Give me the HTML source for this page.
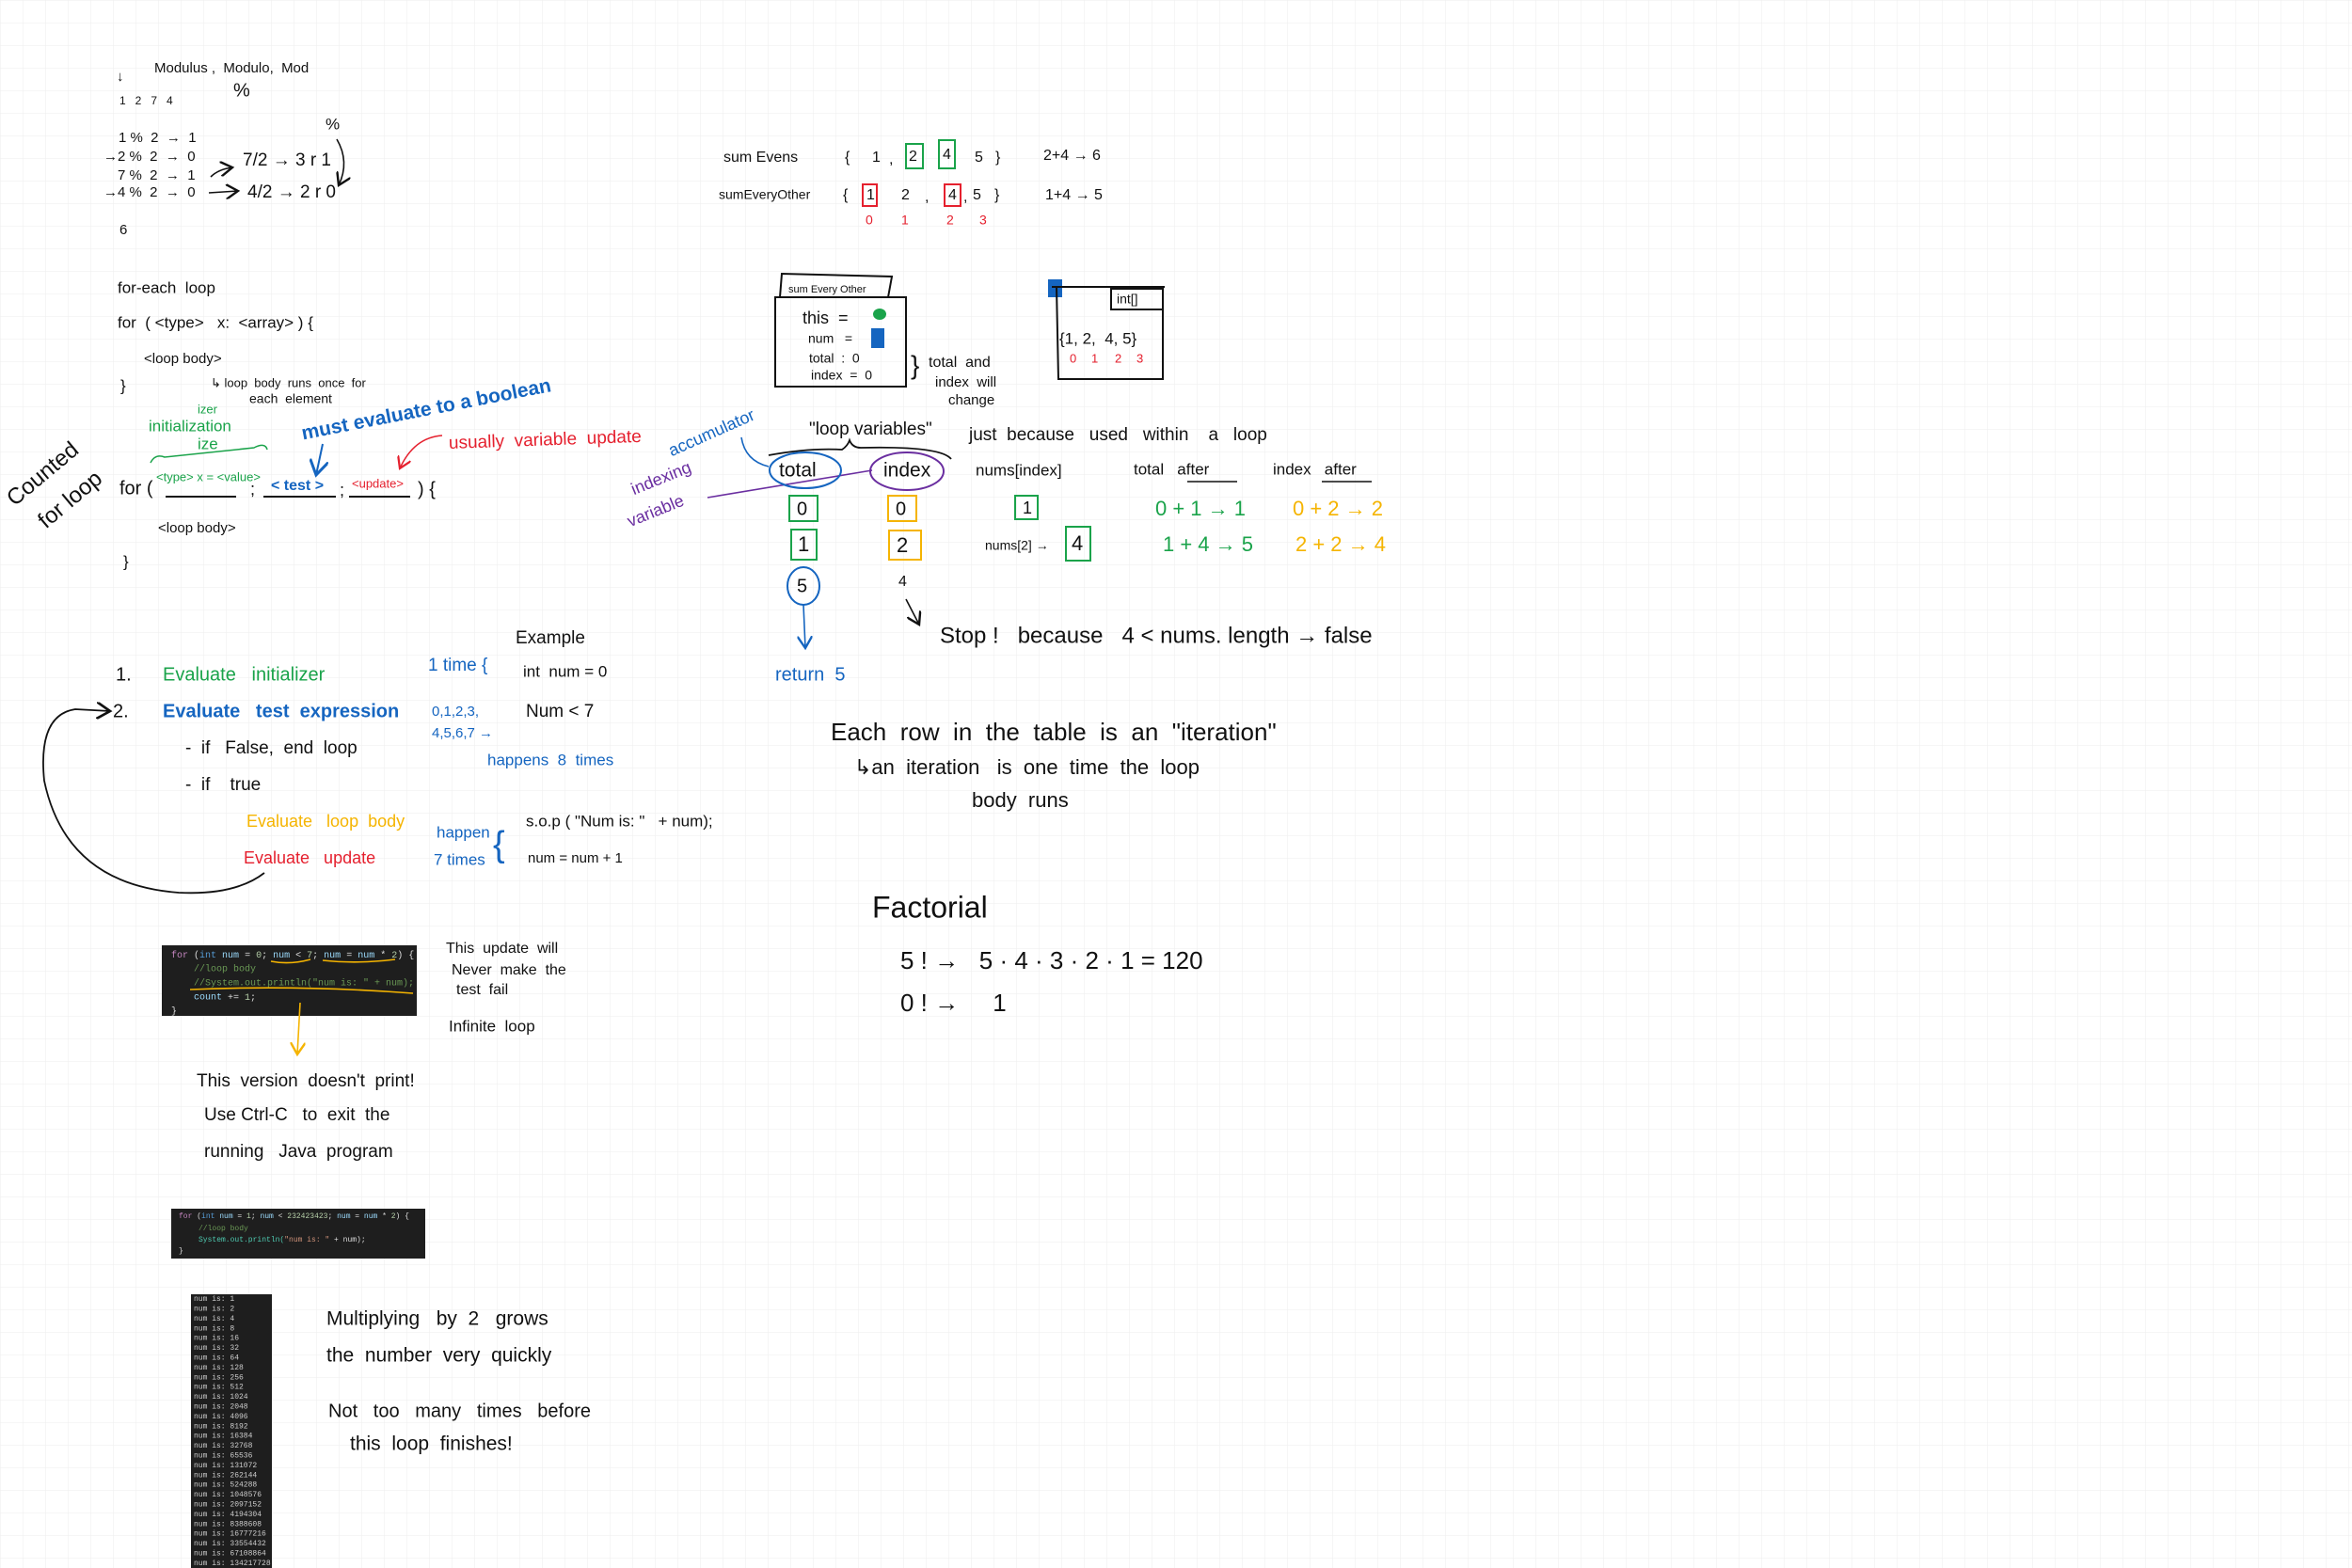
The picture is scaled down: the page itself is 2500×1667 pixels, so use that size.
<!DOCTYPE html>
<html><head><meta charset="utf-8"><style>
html,body{margin:0;padding:0;background:#fff}
svg{display:block}
text{font-family:"Liberation Sans",sans-serif;dominant-baseline:middle;white-space:pre}
.m text, text.m{font-family:"Liberation Mono",monospace}
.g{fill:#1aa34a}.b{fill:#1565c0}.r{fill:#e5202e}.y{fill:#f5b400}.p{fill:#6a2ea0}
</style></head><body>
<svg width="2500" height="1667" viewBox="0 0 2500 1667" xmlns="http://www.w3.org/2000/svg" fill="#111">
<defs>
<pattern id="grid" width="24" height="24" patternUnits="userSpaceOnUse">
<path d="M24 0H0V24" fill="none" stroke="#eeeeee" stroke-width="1"/>
</pattern>
<marker id="ak" markerWidth="10" markerHeight="10" refX="8" refY="5" orient="auto"><path d="M0,0 L8,5 L0,10" fill="none" stroke="#111" stroke-width="1.5"/></marker>
<marker id="ab" markerWidth="10" markerHeight="10" refX="8" refY="5" orient="auto"><path d="M0,0 L8,5 L0,10" fill="none" stroke="#1565c0" stroke-width="1.5"/></marker>
<marker id="ar" markerWidth="10" markerHeight="10" refX="8" refY="5" orient="auto"><path d="M0,0 L8,5 L0,10" fill="none" stroke="#e5202e" stroke-width="1.5"/></marker>
<marker id="ay" markerWidth="10" markerHeight="10" refX="8" refY="5" orient="auto"><path d="M0,0 L8,5 L0,10" fill="none" stroke="#f5b400" stroke-width="1.5"/></marker>
</defs>
<rect width="2500" height="1667" fill="url(#grid)"/>

<!-- Modulus section -->
<g font-size="15">
<text x="124" y="82">↓</text>
<text x="164" y="73">Modulus ,  Modulo,  Mod</text>
<text x="248" y="97" font-size="20">%</text>
<text x="127" y="108" font-size="12">1   2   7   4</text>
<text x="126" y="147">1 %  2  →  1</text>
<text x="110" y="167">→2 %  2  →  0</text>
<text x="125" y="187">7 %  2  →  1</text>
<text x="110" y="205">→4 %  2  →  0</text>
<text x="258" y="171" font-size="19">7/2 → 3 r 1</text>
<text x="263" y="205" font-size="19">4/2 → 2 r 0</text>
<text x="346" y="133" font-size="17">%</text>
<text x="127" y="245">6</text>
</g>
<path d="M224 188 Q232 180 247 178" fill="none" stroke="#111" stroke-width="1.6" marker-end="url(#ak)"/>
<path d="M222 205 L253 203" fill="none" stroke="#111" stroke-width="1.6" marker-end="url(#ak)"/>
<path d="M358 148 Q372 172 360 197" fill="none" stroke="#111" stroke-width="1.6" marker-end="url(#ak)"/>

<!-- for-each -->
<g font-size="17">
<text x="125" y="307">for-each  loop</text>
<text x="125" y="344">for  ( &lt;type&gt;   x:  &lt;array&gt; ) {</text>
<text x="153" y="382" font-size="15">&lt;loop body&gt;</text>
<text x="128" y="411">}</text>
<text x="224" y="408" font-size="13">↳ loop  body  runs  once  for</text>
<text x="265" y="425" font-size="14">each  element</text>
</g>

<!-- counted for loop -->
<text x="10" y="520" font-size="24" transform="rotate(-40 30 525)">Counted</text>
<text x="40" y="545" font-size="24" transform="rotate(-40 60 545)">for loop</text>
<text class="g" x="210" y="436" font-size="13">izer</text>
<text class="g" x="158" y="454" font-size="17">initialization</text>
<text class="g" x="210" y="473" font-size="17">ize</text>
<path d="M160 492 Q165 482 175 486 L270 476 Q282 470 284 478" fill="none" stroke="#1aa34a" stroke-width="1.5"/>
<text class="b" x="321" y="462" font-size="21" font-weight="bold" transform="rotate(-11 321 462)">must evaluate to a boolean</text>
<path d="M343 472 L336 505" fill="none" stroke="#1565c0" stroke-width="2" marker-end="url(#ab)"/>
<text class="r" x="477" y="472" font-size="19" transform="rotate(-2 477 472)">usually  variable  update</text>
<path d="M470 463 Q440 465 425 498" fill="none" stroke="#e5202e" stroke-width="1.5" marker-end="url(#ar)"/>
<text x="127" y="520" font-size="20">for (</text>
<text class="g" x="166" y="508" font-size="13">&lt;type&gt; x = &lt;value&gt;</text>
<path d="M176 528 L251 528" stroke="#111" stroke-width="2"/>
<text x="266" y="521" font-size="18">;</text>
<text class="b" x="288" y="517" font-size="16" font-weight="bold">&lt; test &gt;</text>
<path d="M280 528 L357 528" stroke="#111" stroke-width="2"/>
<text x="361" y="522" font-size="18">;</text>
<text class="r" x="374" y="515" font-size="13">&lt;update&gt;</text>
<path d="M371 528 L436 528" stroke="#111" stroke-width="2"/>
<text x="444" y="521" font-size="20">) {</text>
<text x="168" y="562" font-size="15">&lt;loop body&gt;</text>
<text x="131" y="598" font-size="17">}</text>

<text class="p" x="672" y="522" font-size="18" transform="rotate(-22 672 522)">indexing</text>
<text class="p" x="668" y="556" font-size="18" transform="rotate(-22 668 556)">variable</text>
<path d="M752 529 L927 500" stroke="#6a2ea0" stroke-width="1.6"/>

<!-- sum evens -->
<g font-size="16">
<text x="769" y="168">sum Evens</text>
<text x="898" y="168">{</text><text x="927" y="168">1</text><text x="945" y="170">,</text>
<text x="966" y="167">2</text><text x="1002" y="165">4</text><text x="1036" y="168">5</text><text x="1058" y="168">}</text>
<text x="1109" y="166">2+4 → 6</text>
<text x="764" y="208" font-size="14">sumEveryOther</text>
<text x="896" y="208">{</text><text x="921" y="208">1</text><text x="958" y="208">2</text><text x="983" y="210">,</text>
<text x="1008" y="208">4</text><text x="1024" y="210">,</text><text x="1034" y="208">5</text><text x="1057" y="208">}</text>
<text x="1111" y="208">1+4 → 5</text>
</g>
<rect x="963" y="153" width="18" height="26" fill="none" stroke="#1aa34a" stroke-width="2"/>
<rect x="998" y="149" width="17" height="30" fill="none" stroke="#1aa34a" stroke-width="2"/>
<rect x="917" y="196" width="15" height="23" fill="none" stroke="#e5202e" stroke-width="2"/>
<rect x="1004" y="196" width="17" height="23" fill="none" stroke="#e5202e" stroke-width="2"/>
<g font-size="14"><text class="r" x="920" y="235">0</text><text class="r" x="958" y="235">1</text><text class="r" x="1006" y="235">2</text><text class="r" x="1041" y="235">3</text></g>

<!-- sumEveryOther frame -->
<path d="M829 316 L831 291 L948 294 L944 316" fill="none" stroke="#111" stroke-width="2"/>
<text x="838" y="308" font-size="11">sum Every Other</text>
<rect x="824" y="316" width="139" height="95" fill="none" stroke="#111" stroke-width="2"/>
<g font-size="14">
<text x="853" y="339" font-size="18">this  =</text>
<text x="859" y="361">num   =</text>
<text x="860" y="382">total  :  0</text>
<text x="862" y="400">index  =  0</text>
</g>
<ellipse cx="935" cy="334" rx="7" ry="6" fill="#1aa34a"/>
<rect x="926" y="349" width="14" height="21" fill="#1565c0"/>
<text x="968" y="390" font-size="28">}</text>
<text x="987" y="386" font-size="16">total  and</text>
<text x="994" y="407" font-size="15">index  will</text>
<text x="1008" y="426" font-size="15">change</text>

<!-- int[] frame -->
<rect x="1114" y="297" width="15" height="19" fill="#1565c0"/>
<path d="M1118 305 L1238 305 M1123 305 L1125 403 L1236 403 L1236 305" fill="none" stroke="#111" stroke-width="2"/>
<rect x="1181" y="307" width="55" height="22" fill="none" stroke="#111" stroke-width="2"/>
<text x="1187" y="319" font-size="14">int[]</text>
<text x="1126" y="361" font-size="17">{1, 2,  4, 5}</text>
<g font-size="13"><text class="r" x="1137" y="382">0</text><text class="r" x="1160" y="382">1</text><text class="r" x="1185" y="382">2</text><text class="r" x="1208" y="382">3</text></g>

<!-- table -->
<text class="b" x="712" y="481" font-size="18" transform="rotate(-24 712 481)">accumulator</text>
<path d="M788 465 Q792 490 817 496" fill="none" stroke="#1565c0" stroke-width="1.6"/>
<text x="860" y="457" font-size="19">"loop variables"</text>
<path d="M817 484 Q860 476 895 478 Q901 474 903 468 Q906 476 915 476 Q1000 474 1011 488" fill="none" stroke="#111" stroke-width="1.8"/>
<text x="1030" y="463" font-size="19">just  because   used   within    a   loop</text>
<ellipse cx="856" cy="500" rx="38" ry="19" fill="none" stroke="#1565c0" stroke-width="2"/>
<text x="828" y="501" font-size="21">total</text>
<ellipse cx="964" cy="501" rx="39" ry="20" fill="none" stroke="#6a2ea0" stroke-width="2"/>
<text x="939" y="501" font-size="21">index</text>
<text x="1037" y="501" font-size="17">nums[index]</text>
<text x="1205" y="500" font-size="17">total   after</text>
<path d="M1262 512 L1315 512" stroke="#111" stroke-width="1.5"/>
<text x="1353" y="500" font-size="17">index   after</text>
<path d="M1405 512 L1458 512" stroke="#111" stroke-width="1.5"/>

<rect x="839" y="527" width="30" height="27" fill="none" stroke="#1aa34a" stroke-width="2"/><text x="847" y="542" font-size="20">0</text>
<rect x="944" y="527" width="30" height="27" fill="none" stroke="#f5b400" stroke-width="2"/><text x="952" y="542" font-size="20">0</text>
<rect x="1079" y="527" width="24" height="25" fill="none" stroke="#1aa34a" stroke-width="2"/><text x="1087" y="541" font-size="18">1</text>
<text class="g" x="1228" y="542" font-size="22">0 + 1 → 1</text>
<text class="y" x="1374" y="542" font-size="22">0 + 2 → 2</text>

<rect x="841" y="563" width="27" height="32" fill="none" stroke="#1aa34a" stroke-width="2"/><text x="848" y="580" font-size="22">1</text>
<rect x="945" y="564" width="34" height="31" fill="none" stroke="#f5b400" stroke-width="2"/><text x="953" y="581" font-size="22">2</text>
<text x="1047" y="581" font-size="14">nums[2] →</text>
<rect x="1133" y="560" width="26" height="36" fill="none" stroke="#1aa34a" stroke-width="2"/><text x="1139" y="579" font-size="22">4</text>
<text class="g" x="1236" y="580" font-size="22">1 + 4 → 5</text>
<text class="y" x="1377" y="580" font-size="22">2 + 2 → 4</text>

<ellipse cx="854" cy="623" rx="17" ry="20" fill="none" stroke="#1565c0" stroke-width="2"/><text x="847" y="624" font-size="20">5</text>
<text x="955" y="619" font-size="16">4</text>
<path d="M854 643 L856 689" stroke="#1565c0" stroke-width="1.6" marker-end="url(#ab)"/>
<path d="M963 637 L977 664" stroke="#111" stroke-width="1.6" marker-end="url(#ak)"/>
<text x="999" y="677" font-size="24">Stop !   because   4 &lt; nums. length → false</text>
<text class="b" x="824" y="718" font-size="20">return  5</text>

<!-- evaluation steps -->
<text x="548" y="679" font-size="19">Example</text>
<text x="123" y="718" font-size="20">1.</text>
<text class="g" x="173" y="718" font-size="20">Evaluate   initializer</text>
<text x="120" y="757" font-size="20">2.</text>
<text class="b" x="173" y="757" font-size="20" font-weight="bold">Evaluate   test  expression</text>
<text x="197" y="796" font-size="19">-  if   False,  end  loop</text>
<text x="197" y="835" font-size="19">-  if    true</text>
<text class="y" x="262" y="874" font-size="18">Evaluate   loop  body</text>
<text class="r" x="259" y="913" font-size="18">Evaluate   update</text>
<path d="M281 928 Q250 952 190 949 Q70 940 47 830 Q40 760 80 754 L117 756" fill="none" stroke="#111" stroke-width="1.8" marker-end="url(#ak)"/>
<text class="b" x="455" y="708" font-size="19">1 time {</text>
<text x="556" y="715" font-size="17">int  num = 0</text>
<text class="b" x="459" y="757" font-size="15">0,1,2,3,</text>
<text class="b" x="459" y="780" font-size="15">4,5,6,7 →</text>
<text x="559" y="757" font-size="19">Num &lt; 7</text>
<text class="b" x="518" y="809" font-size="17">happens  8  times</text>
<text class="b" x="464" y="886" font-size="17">happen</text>
<text class="b" x="461" y="915" font-size="17">7 times</text>
<text class="b" x="524" y="900" font-size="38">{</text>
<text x="559" y="874" font-size="17">s.o.p ( "Num is: "   + num);</text>
<text x="561" y="913" font-size="15">num = num + 1</text>

<!-- code box 1 -->
<rect x="172" y="1005" width="271" height="75" fill="#1e1e1e"/>
<g class="m" font-size="10">
<text x="182" y="1015"><tspan fill="#c586c0">for</tspan><tspan fill="#ddd"> (</tspan><tspan fill="#569cd6">int</tspan><tspan fill="#9cdcfe"> num</tspan><tspan fill="#ddd"> = </tspan><tspan fill="#b5cea8">0</tspan><tspan fill="#ddd">; </tspan><tspan fill="#9cdcfe">num</tspan><tspan fill="#ddd"> &lt; </tspan><tspan fill="#b5cea8">7</tspan><tspan fill="#ddd">; </tspan><tspan fill="#9cdcfe">num</tspan><tspan fill="#ddd"> = </tspan><tspan fill="#9cdcfe">num</tspan><tspan fill="#ddd"> * </tspan><tspan fill="#b5cea8">2</tspan><tspan fill="#ddd">) {</tspan></text>
<text x="206" y="1030" fill="#6a9955">//loop body</text>
<text x="206" y="1045" fill="#6a9955">//System.out.println("num is: " + num);</text>
<text x="206" y="1060" fill="#9cdcfe">count <tspan fill="#ddd">+= </tspan><tspan fill="#b5cea8">1</tspan><tspan fill="#ddd">;</tspan></text>
<text x="182" y="1075" fill="#ddd">}</text>
</g>
<path d="M288 1022 Q308 1026 330 1020 M343 1021 Q380 1025 420 1020 M202 1052 Q320 1047 439 1056" fill="none" stroke="#f5b400" stroke-width="1.6"/>
<path d="M319 1066 L316 1121" stroke="#f5b400" stroke-width="1.6" marker-end="url(#ay)"/>
<text x="474" y="1009" font-size="16">This  update  will</text>
<text x="480" y="1032" font-size="16">Never  make  the</text>
<text x="485" y="1053" font-size="16">test  fail</text>
<text x="477" y="1092" font-size="17">Infinite  loop</text>
<text x="209" y="1150" font-size="19">This  version  doesn't  print!</text>
<text x="217" y="1186" font-size="19">Use Ctrl-C   to  exit  the</text>
<text x="217" y="1225" font-size="19">running   Java  program</text>

<!-- code box 2 -->
<rect x="182" y="1285" width="270" height="53" fill="#1e1e1e"/>
<g class="m" font-size="8">
<text x="190" y="1293"><tspan fill="#c586c0">for</tspan><tspan fill="#ddd"> (</tspan><tspan fill="#569cd6">int</tspan><tspan fill="#9cdcfe"> num</tspan><tspan fill="#ddd"> = </tspan><tspan fill="#b5cea8">1</tspan><tspan fill="#ddd">; </tspan><tspan fill="#9cdcfe">num</tspan><tspan fill="#ddd"> &lt; </tspan><tspan fill="#b5cea8">232423423</tspan><tspan fill="#ddd">; </tspan><tspan fill="#9cdcfe">num</tspan><tspan fill="#ddd"> = </tspan><tspan fill="#9cdcfe">num</tspan><tspan fill="#ddd"> * </tspan><tspan fill="#b5cea8">2</tspan><tspan fill="#ddd">) {</tspan></text>
<text x="211" y="1306" fill="#6a9955">//loop body</text>
<text x="211" y="1318" fill="#4ec9b0">System.out.println(<tspan fill="#ce9178">"num is: "</tspan><tspan fill="#ddd"> + num);</tspan></text>
<text x="190" y="1330" fill="#ddd">}</text>
</g>

<!-- output box -->
<rect x="203" y="1376" width="86" height="291" fill="#1e1e1e"/>
<g class="m" font-size="8" fill="#ccc">
<text x="206" y="1381">num is: 1</text><text x="206" y="1391.4">num is: 2</text><text x="206" y="1401.8">num is: 4</text><text x="206" y="1412.2">num is: 8</text><text x="206" y="1422.6">num is: 16</text><text x="206" y="1433">num is: 32</text><text x="206" y="1443.4">num is: 64</text><text x="206" y="1453.8">num is: 128</text><text x="206" y="1464.2">num is: 256</text><text x="206" y="1474.6">num is: 512</text><text x="206" y="1485">num is: 1024</text><text x="206" y="1495.4">num is: 2048</text><text x="206" y="1505.8">num is: 4096</text><text x="206" y="1516.2">num is: 8192</text><text x="206" y="1526.6">num is: 16384</text><text x="206" y="1537">num is: 32768</text><text x="206" y="1547.4">num is: 65536</text><text x="206" y="1557.8">num is: 131072</text><text x="206" y="1568.2">num is: 262144</text><text x="206" y="1578.6">num is: 524288</text><text x="206" y="1589">num is: 1048576</text><text x="206" y="1599.4">num is: 2097152</text><text x="206" y="1609.8">num is: 4194304</text><text x="206" y="1620.2">num is: 8388608</text><text x="206" y="1630.6">num is: 16777216</text><text x="206" y="1641">num is: 33554432</text><text x="206" y="1651.4">num is: 67108864</text><text x="206" y="1661.8">num is: 134217728</text>
</g>
<text x="347" y="1403" font-size="21">Multiplying   by  2   grows</text>
<text x="347" y="1442" font-size="21">the  number  very  quickly</text>
<text x="349" y="1501" font-size="20">Not   too   many   times   before</text>
<text x="372" y="1536" font-size="21">this  loop  finishes!</text>

<!-- iteration / factorial -->
<text x="883" y="780" font-size="26">Each  row  in  the  table  is  an  "iteration"</text>
<text x="908" y="817" font-size="22">↳an  iteration   is  one  time  the  loop</text>
<text x="1033" y="852" font-size="22">body  runs</text>
<text x="927" y="967" font-size="32">Factorial</text>
<text x="957" y="1023" font-size="26">5 ! →   5 · 4 · 3 · 2 · 1 = 120</text>
<text x="957" y="1068" font-size="26">0 ! →     1</text>
</svg>
</body></html>
